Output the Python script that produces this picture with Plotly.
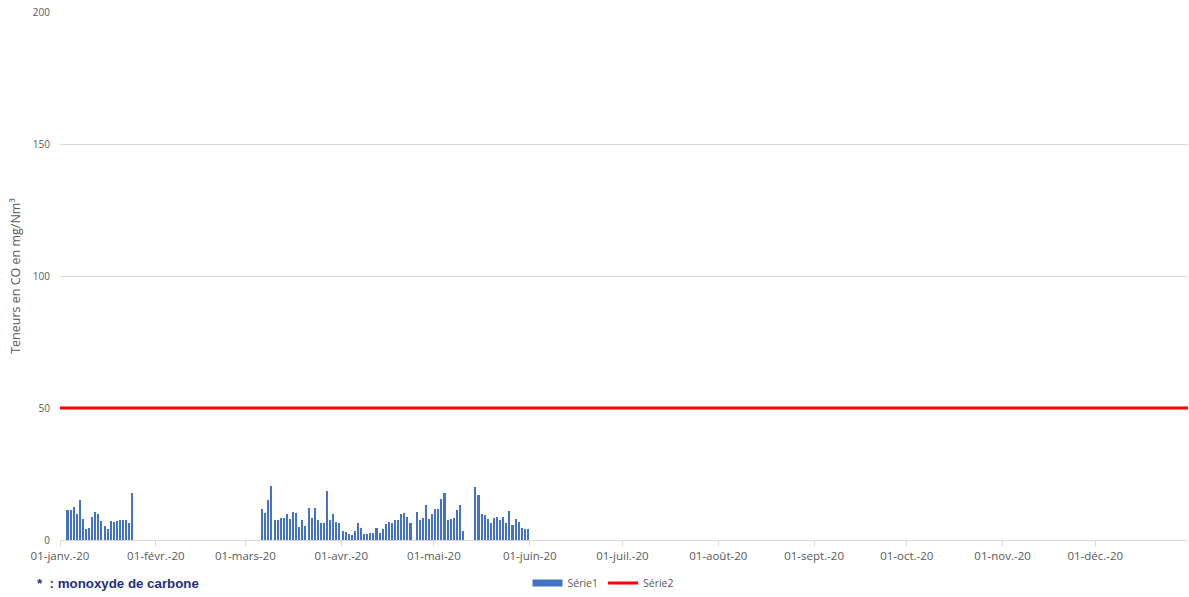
import datetime as dt
import plotly.graph_objects as go

# ---- Data ----
seg1_start = "2020-01-03"
seg1_values = [11.4, 11.2, 12.6, 10.0, 15.0, 8.0, 4.2, 4.6, 8.9, 10.7, 9.7, 7.1,
               5.4, 4.2, 7.3, 6.8, 7.3, 7.4, 7.4, 7.4, 6.6, 17.7]
seg2_start = "2020-03-06"
seg2_values = [11.8, 10.2, 15.2, 20.4, 7.4, 7.6, 8.4, 8.5, 9.9, 8.1, 10.7, 10.2,
               4.9, 7.5, 5.4, 12.3, 8.4, 12.3, 7.4, 6.3, 6.6, 18.5, 7.5, 9.7,
               6.9, 6.3, 3.6, 3.2, 2.1, 1.9, 3.3, 6.3, 4.5, 2.2, 2.3, 2.8,
               2.7, 4.6, 2.7, 4.0, 6.0, 6.8, 6.3, 7.4, 7.5, 9.9, 10.4, 8.8, 6.5]
seg3_start = "2020-04-25"
seg3_values = [10.7, 7.4, 8.5, 13.2, 8.0, 9.7, 11.8, 11.7, 15.5, 17.9, 7.4,
               8.0, 8.5, 11.2, 13.1, 3.6]
seg4_start = "2020-05-14"
seg4_values = [20.0, 17.2, 10.0, 9.5, 8.1, 6.6, 8.4, 8.8, 7.4, 8.7, 6.6, 11.1,
               5.8, 8.0, 6.9, 4.6, 4.0, 4.2]

serie2_dates = ["2020-01-01", "2020-12-31"]
serie2_values = [50, 50]

tick_dates = ["2020-%02d-01" % m for m in range(1, 13)]
tick_labels = ["01-janv.-20", "01-févr.-20", "01-mars-20", "01-avr.-20", "01-mai-20",
               "01-juin-20", "01-juil.-20", "01-août-20", "01-sept.-20", "01-oct.-20",
               "01-nov.-20", "01-déc.-20"]
y_ticks = [0, 50, 100, 150, 200]

# ---- Build daily series ----
dates, values = [], []
for start, vals in [(seg1_start, seg1_values), (seg2_start, seg2_values),
                    (seg3_start, seg3_values), (seg4_start, seg4_values)]:
    d0 = dt.datetime.strptime(start, "%Y-%m-%d") + dt.timedelta(hours=12)
    for i, v in enumerate(vals):
        dates.append(d0 + dt.timedelta(days=i))
        values.append(v)

FONT = "Open Sans, Lato, sans-serif"
GREY = "#595959"
BLUE = "#4472C4"

fig = go.Figure()
fig.add_trace(go.Bar(
    x=dates, y=values, name="Série1", showlegend=False,
    marker=dict(color=BLUE, line=dict(width=0)),
    width=0.5 * 86400000,
))
# legend entry for Série1 drawn as a wide rectangle (like the reference)
fig.add_trace(go.Scatter(
    x=[None], y=[None], name="Série1", mode="lines",
    line=dict(color=BLUE, width=7),
))
fig.add_trace(go.Scatter(
    x=serie2_dates, y=serie2_values, name="Série2", mode="lines",
    line=dict(color="#FF0000", width=3),
))

fig.update_layout(
    width=1189, height=597,
    margin=dict(l=60, r=1, t=12, b=57, autoexpand=False),
    paper_bgcolor="white", plot_bgcolor="white",
    font=dict(family=FONT, size=10, color=GREY),
    showlegend=True,
    legend=dict(orientation="h", x=0.4814, xanchor="center", y=-0.0814, yanchor="middle",
                font=dict(size=10.5, color=GREY, family=FONT), itemwidth=30,
                tracegroupgap=0),
    bargap=0,
    xaxis=dict(
        type="date", range=["2020-01-01", "2020-12-31"], automargin=False,
        tickmode="array", tickvals=tick_dates, ticktext=tick_labels,
        ticks="outside", ticklen=5, tickcolor="#D9D9D9",
        showline=True, linecolor="#D9D9D9", linewidth=1,
        showgrid=False, tickfont=dict(size=11.5, color=GREY, family=FONT),
    ),
    yaxis=dict(
        range=[0, 200], tickmode="array", tickvals=y_ticks, automargin=False,
        showgrid=True, gridcolor="#D9D9D9", gridwidth=1,
        zeroline=False, showline=False, ticks="", ticklabelstandoff=9,
        tickfont=dict(size=10, color=GREY, family=FONT),
        title=dict(text="Teneurs en CO en mg/Nm³", font=dict(size=12.5, color=GREY, family=FONT),
                   standoff=9),
    ),
)

fig.add_annotation(
    text="<b>*  : monoxyde de carbone</b>", xref="paper", yref="paper",
    x=-0.0222, y=-0.0833, xanchor="left", yanchor="middle", showarrow=False,
    font=dict(family="Arial, Liberation Sans, sans-serif", size=13.3, color="#1F3080"),
)

fig.write_html("out.html", config={"displayModeBar": False},
               post_script="document.body.style.margin='0';document.body.style.overflow='hidden';")
